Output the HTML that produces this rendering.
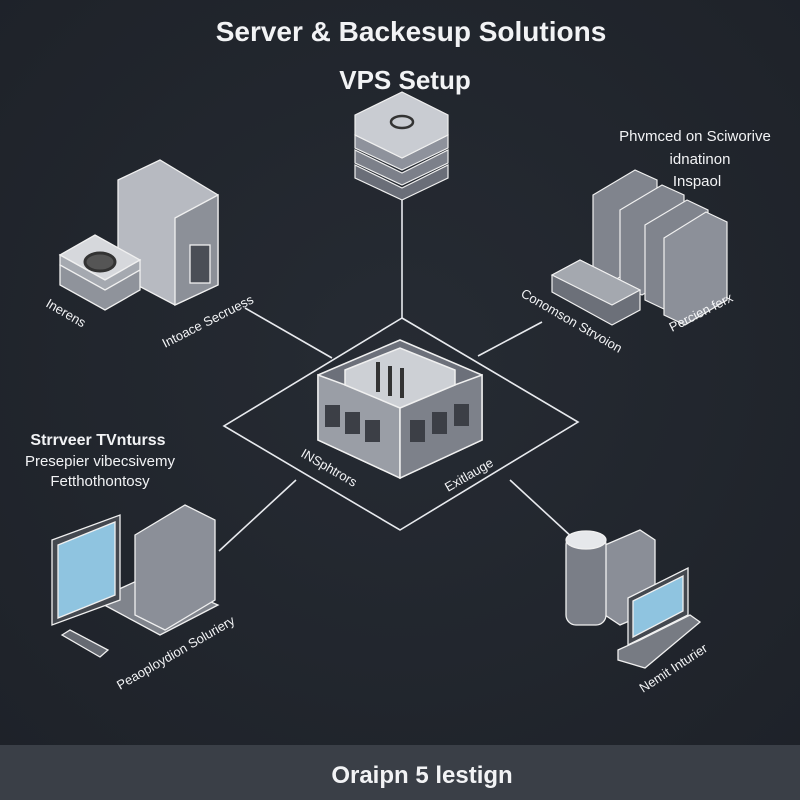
<!DOCTYPE html>
<html><head><meta charset="utf-8"><style>
html,body{margin:0;padding:0;background:#22272f;}
svg{display:block}
text{font-family:"Liberation Sans",sans-serif;fill:#f2f3f5}
</style></head><body>
<svg width="800" height="800" viewBox="0 0 800 800">
<defs>
<radialGradient id="bg" cx="50%" cy="45%" r="70%"><stop offset="0" stop-color="#262b33"/><stop offset="1" stop-color="#1e2229"/></radialGradient>
</defs>
<rect width="800" height="800" fill="url(#bg)"/>
<rect y="745" width="800" height="55" fill="#3a3f47"/>
<text x="411" y="41" font-size="28" font-weight="bold" text-anchor="middle">Server &amp; Backesup Solutions</text>
<text x="405" y="89" font-size="26" font-weight="bold" text-anchor="middle">VPS Setup</text>
<text x="422" y="783" font-size="24" font-weight="bold" text-anchor="middle">Oraipn 5 lestign</text>

<g stroke="#e8eaee" stroke-width="1.6" fill="none">
<line x1="402" y1="190" x2="402" y2="318"/>
<polygon points="402,318 578,422 400,530 224,426"/>
<line x1="245" y1="308" x2="332" y2="358"/>
<line x1="478" y1="356" x2="542" y2="322"/>
<line x1="219" y1="551" x2="296" y2="480"/>
<line x1="510" y1="480" x2="612" y2="574"/>
</g>

<g stroke="#f0f0f0" stroke-width="1.2">
<polygon points="355,165 402,188 448,165 448,178 402,200 355,178" fill="#6a6e78"/>
<polygon points="355,150 402,173 448,150 448,163 402,185 355,163" fill="#7c808a"/>
<polygon points="355,135 402,158 448,135 448,148 402,170 355,148" fill="#8e929c"/>
<polygon points="355,115 402,92 448,115 448,135 402,158 355,135" fill="#c9ccd2"/>
<ellipse cx="402" cy="122" rx="11" ry="6" fill="none" stroke="#333" stroke-width="2.5"/>
</g>

<g stroke="#f0f0f0" stroke-width="1.5">
<polygon points="318,375 400,340 482,375 482,440 400,478 318,440" fill="#6c707a"/>
<polygon points="318,375 400,405 400,478 318,440" fill="#9a9ea6"/>
<polygon points="400,405 482,375 482,440 400,478" fill="#7d818a"/>
<polygon points="345,370 400,348 455,370 455,385 400,408 345,385" fill="#cdd0d5"/>
<g stroke="#333" stroke-width="4"><line x1="378" y1="362" x2="378" y2="392"/><line x1="390" y1="366" x2="390" y2="396"/><line x1="402" y1="368" x2="402" y2="398"/></g>
<g fill="#3c3f46" stroke="none"><rect x="325" y="405" width="15" height="22"/><rect x="345" y="412" width="15" height="22"/><rect x="365" y="420" width="15" height="22"/><rect x="410" y="420" width="15" height="22"/><rect x="432" y="412" width="15" height="22"/><rect x="454" y="404" width="15" height="22"/></g>
</g>

<g stroke="#f0f0f0" stroke-width="1.3">
<polygon points="118,180 160,160 218,195 218,285 175,305 118,275" fill="#b7bac1"/>
<polygon points="175,218 218,195 218,285 175,305" fill="#8c9098"/>
<rect x="190" y="245" width="20" height="38" fill="#4a4e56"/>
<polygon points="60,265 95,245 140,270 140,290 105,310 60,285" fill="#8f939b"/>
<polygon points="60,255 95,235 140,260 105,280" fill="#d6d8dc"/>
<polygon points="60,255 105,280 140,260 140,270 105,290 60,265" fill="#a5a9b0"/>
<ellipse cx="100" cy="262" rx="15" ry="9" fill="#555" stroke="#333" stroke-width="3"/>
</g>
<g stroke="#f0f0f0" stroke-width="1.2">
<polygon points="593,195 635,170 657,180 657,255 615,280 593,270" fill="#80848d"/>
<polygon points="620,210 662,185 684,195 684,270 642,295 620,285" fill="#80848d"/>
<polygon points="645,225 687,200 708,210 708,285 666,310 645,300" fill="#80848d"/>
<polygon points="664,238 706,212 727,222 727,300 685,325 664,315" fill="#8c9099"/>
<polygon points="552,275 580,260 640,290 640,310 612,325 552,292" fill="#6c7079"/>
<polygon points="552,275 580,260 640,290 612,305" fill="#a4a8af"/>
</g>
<g stroke="#f0f0f0" stroke-width="1.3">
<polygon points="95,600 150,575 218,605 160,635" fill="#80848c"/>
<polygon points="135,535 185,505 215,520 215,600 165,630 135,615" fill="#8b8f98"/>
<polygon points="52,540 120,515 120,600 52,625" fill="#44484f"/>
<polygon points="58,545 115,522 115,595 58,618" fill="#8fc4e0"/>
<polygon points="62,635 70,630 108,650 100,657" fill="#666a72"/>
</g>
<g stroke="#f0f0f0" stroke-width="1.3">
<polygon points="605,545 640,530 655,540 655,610 620,625 605,615" fill="#8a8e97"/>
<rect x="566" y="535" width="40" height="90" rx="10" fill="#7a7e87"/>
<ellipse cx="586" cy="540" rx="20" ry="9" fill="#e6e8eb"/>
<polygon points="628,598 688,568 688,615 628,645" fill="#44484f"/>
<polygon points="633,601 683,576 683,611 633,637" fill="#8fc4e0"/>
<polygon points="618,650 640,640 690,615 700,622 645,668 618,660" fill="#777b83"/>
</g>

<text x="695" y="141" font-size="15" text-anchor="middle">Phvmced on Sciworive</text>
<text x="700" y="164" font-size="15" text-anchor="middle">idnatinon</text>
<text x="697" y="186" font-size="15" text-anchor="middle">Inspaol</text>
<text x="98" y="445" font-size="16" font-weight="bold" text-anchor="middle">Strrveer TVnturss</text>
<text x="100" y="466" font-size="15" text-anchor="middle">Presepier vibecsivemy</text>
<text x="100" y="486" font-size="15" text-anchor="middle">Fetthothontosy</text>
<g font-size="13">
<text transform="translate(45,306) rotate(30)">Inerens</text>
<text transform="translate(165,348) rotate(-27)">Intoace Secruess</text>
<text transform="translate(520,296) rotate(30)">Conomson Strvoion</text>
<text transform="translate(672,332) rotate(-27)">Percien ferx</text>
<text transform="translate(300,456) rotate(30)">INSphtrors</text>
<text transform="translate(448,492) rotate(-30)">Exitlauge</text>
<text transform="translate(120,690) rotate(-30)">Peaoploydion Soluriery</text>
<text transform="translate(643,693) rotate(-33)">Nemit Inturier</text>
</g>
</svg>
</body></html>
